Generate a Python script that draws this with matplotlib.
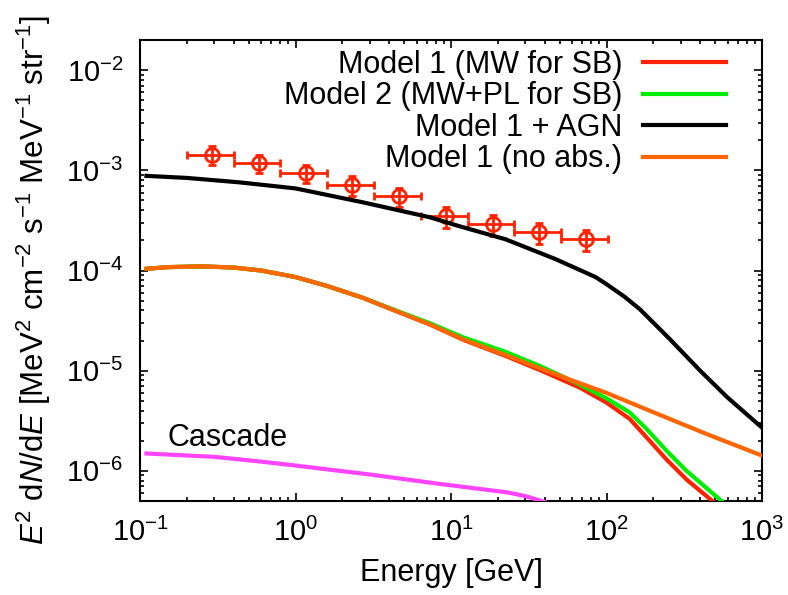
import matplotlib

matplotlib.use("Agg")
import matplotlib.pyplot as plt
import numpy as np

plt.rcParams.update({
    "font.family": ["Liberation Sans", "DejaVu Sans"],
    "mathtext.fontset": "custom",
    "mathtext.rm": "Liberation Sans",
    "mathtext.it": "Liberation Sans:italic",
    "mathtext.bf": "Liberation Sans:bold",
})

# Fermi-like data points (energy bins in GeV)
data_e = [0.29, 0.58, 1.16, 2.3, 4.6, 9.3, 18.6, 37.0, 74.0]
data_lo = [0.2, 0.4, 0.8, 1.6, 3.2, 6.4, 12.8, 25.6, 51.2]
data_hi = [0.4, 0.8, 1.6, 3.2, 6.4, 12.8, 25.6, 51.2, 102.4]
data_y = [1.43e-3, 1.18e-3, 9.4e-4, 7.2e-4, 5.5e-4, 3.5e-4, 2.9e-4, 2.4e-4, 2.05e-4]
data_yerr = [3.0e-4, 2.5e-4, 2.0e-4, 1.6e-4, 1.2e-4, 8.5e-5, 7.0e-5, 5.8e-5, 5.0e-5]

# Model 1 (no abs.)
noabs_e = [0.11, 0.15, 0.25, 0.4, 0.6, 1.0, 1.6, 2.7, 4.5, 7.3, 12, 22, 37, 60, 100, 200, 450, 1000]
noabs_y = [1.04e-4, 1.08e-4, 1.1e-4, 1.07e-4, 1.0e-4, 8.6e-5, 7.0e-5, 5.35e-5, 3.9e-5,
           2.9e-5, 2.05e-5, 1.45e-5, 1.06e-5, 8.0e-6, 6.0e-6, 3.85e-6, 2.3e-6, 1.42e-6]

# Model 1 (MW for SB)
m1_e = [0.11, 0.15, 0.25, 0.4, 0.6, 1.0, 1.6, 2.7, 4.5, 7.3, 12, 22, 37, 67, 100, 141, 181, 243, 327, 480]
m1_y = [1.04e-4, 1.08e-4, 1.1e-4, 1.07e-4, 1.0e-4, 8.6e-5, 7.0e-5, 5.35e-5, 3.9e-5,
        2.9e-5, 2.03e-5, 1.42e-5, 1.02e-5, 6.8e-6, 4.8e-6, 3.3e-6, 2.16e-6, 1.3e-6, 8.2e-7, 5.0e-7]

# Model 2 (MW+PL for SB)
m2_e = [0.11, 0.15, 0.25, 0.4, 0.6, 1.0, 1.6, 2.7, 4.5, 7.3, 12, 22, 37, 67, 100, 141, 181, 243, 327, 550]
m2_y = [1.04e-4, 1.08e-4, 1.1e-4, 1.07e-4, 1.0e-4, 8.6e-5, 7.0e-5, 5.35e-5, 3.95e-5,
        2.98e-5, 2.15e-5, 1.56e-5, 1.12e-5, 7.3e-6, 5.3e-6, 3.83e-6, 2.62e-6, 1.59e-6, 1.0e-6, 5.0e-7]

# Model 1 + AGN
agn_e = [0.11, 0.2, 0.43, 1.0, 2.7, 7.3, 11.3, 22.4, 47, 85, 100, 130, 164, 255, 400, 600, 1000]
agn_y = [8.8e-4, 8.4e-4, 7.6e-4, 6.6e-4, 4.8e-4, 3.4e-4, 2.77e-4, 2.05e-4, 1.3e-4,
         8.6e-5, 7.3e-5, 5.5e-5, 4.1e-5, 2.07e-5, 1.0e-5, 5.4e-6, 2.7e-6]

# Cascade
cas_e = [0.11, 0.3, 0.59, 1.0, 3.0, 8.5, 23, 30, 40]
cas_y = [1.49e-6, 1.38e-6, 1.24e-6, 1.13e-6, 9.2e-7, 7.4e-7, 6.1e-7, 5.6e-7, 4.9e-7]

RED = "#ff2200"
GREEN = "#00ee00"
ORANGE = "#ff6600"
MAGENTA = "#ff44ff"


def main() -> None:
    fig = plt.figure(figsize=(7.88, 5.95), dpi=100)
    ax = fig.add_axes([140 / 788, 1 - 501 / 595, 622 / 788, 461 / 595])
    ax.set_xscale("log")
    ax.set_yscale("log")

    e = np.array(data_e)
    xerr = [e - np.array(data_lo), np.array(data_hi) - e]
    ax.errorbar(data_e, data_y, xerr=xerr, yerr=data_yerr, fmt="o", mfc="none",
                mec=RED, ms=10, mew=2, ecolor=RED, elinewidth=2, capsize=3,
                capthick=2, zorder=2)

    lw = 3
    ax.plot(m1_e, m1_y, color=RED, lw=lw, label="Model 1 (MW for SB)", zorder=3)
    ax.plot(m2_e, m2_y, color=GREEN, lw=lw, label="Model 2 (MW+PL for SB)", zorder=3)
    ax.plot(agn_e, agn_y, color="black", lw=lw, label="Model 1 + AGN", zorder=3)
    ax.plot(noabs_e, noabs_y, color=ORANGE, lw=lw, label="Model 1 (no abs.)", zorder=4)
    ax.plot(cas_e, cas_y, color=MAGENTA, lw=lw, zorder=3)

    fs = 22
    ax.text(0.15, 1.75e-6, "Cascade", fontsize=fs, ha="left", va="baseline")

    ax.set_xlim(0.1, 1000)
    ax.set_ylim(5e-7, 2e-2)
    ax.set_xlabel("Energy [GeV]", fontsize=fs, labelpad=8)
    ax.set_ylabel(r"$E^2$ d$N$/d$E$ [MeV$^2$ cm$^{-2}$ s$^{-1}$ MeV$^{-1}$ str$^{-1}$]",
                  fontsize=22.5)
    ax.yaxis.set_label_coords(-0.14, 0.48)

    for side in ax.spines.values():
        side.set_linewidth(1.5)
    ax.tick_params(which="both", direction="in", top=True, right=True, width=1.2)
    ax.tick_params(which="major", length=6, labelsize=fs - 1)
    ax.tick_params(which="minor", length=3)
    ax.tick_params(axis="y", which="major", pad=12)
    ax.tick_params(axis="x", which="major", pad=12)

    ax.legend(loc="upper right", bbox_to_anchor=(0.942, 0.979), frameon=False,
              markerfirst=False, fontsize=fs, handlelength=2.7, handletextpad=0.7,
              labelspacing=0.05, borderpad=0, borderaxespad=0)

    fig.savefig("out.png", dpi=100)
    plt.close(fig)


if __name__ == "__main__":
    main()
